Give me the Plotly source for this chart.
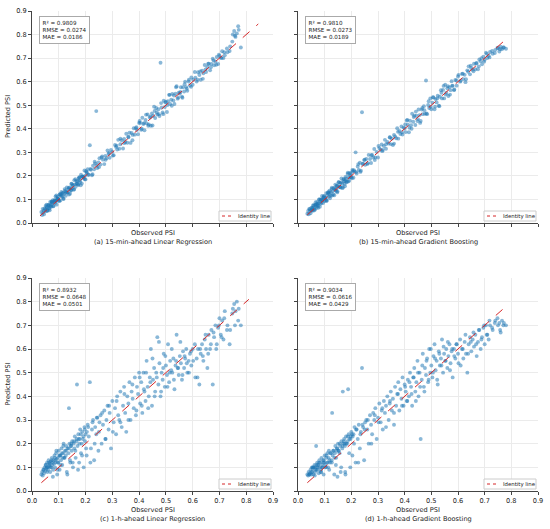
import plotly.graph_objects as go

# ── Data ─────────────────────────────────────────────────────────────────────
observed = [
    0.035, 0.038, 0.04, 0.042, 0.045, 0.047, 0.05, 0.052, 0.054, 0.056,
    0.058, 0.06, 0.062, 0.064, 0.066, 0.068, 0.07, 0.072, 0.074, 0.076,
    0.078, 0.08, 0.082, 0.084, 0.086, 0.088, 0.09, 0.092, 0.094, 0.096,
    0.098, 0.1, 0.103, 0.106, 0.108, 0.11, 0.113, 0.116, 0.118, 0.12,
    0.123, 0.126, 0.128, 0.13, 0.133, 0.136, 0.138, 0.14, 0.143, 0.146,
    0.148, 0.15, 0.153, 0.156, 0.158, 0.16, 0.163, 0.166, 0.168, 0.17,
    0.173, 0.176, 0.178, 0.18, 0.183, 0.186, 0.188, 0.19, 0.193, 0.196,
    0.198, 0.2, 0.204, 0.208, 0.212, 0.216, 0.22, 0.224, 0.228, 0.232,
    0.236, 0.24, 0.244, 0.248, 0.252,
    0.256, 0.26, 0.265, 0.27, 0.274, 0.278, 0.282, 0.286, 0.29, 0.295,
    0.3, 0.305, 0.31, 0.314, 0.318, 0.322, 0.326, 0.33, 0.335, 0.34,
    0.344, 0.348, 0.352, 0.356, 0.36, 0.364, 0.368, 0.372, 0.376, 0.38,
    0.384, 0.388, 0.392, 0.396, 0.4,
    0.404, 0.408, 0.412, 0.416, 0.42, 0.424, 0.428, 0.432, 0.436, 0.44,
    0.444, 0.448, 0.452, 0.456, 0.46, 0.464, 0.468, 0.472, 0.476, 0.48,
    0.484, 0.488, 0.492, 0.496, 0.5, 0.504, 0.508, 0.512, 0.516, 0.52,
    0.524, 0.528, 0.532, 0.536, 0.54, 0.544, 0.548, 0.552, 0.556, 0.56,
    0.564, 0.568, 0.572, 0.576, 0.58, 0.585, 0.59, 0.595, 0.6, 0.61,
    0.615, 0.62, 0.625, 0.63, 0.635, 0.64, 0.645, 0.65, 0.655, 0.66,
    0.665, 0.67, 0.675, 0.68, 0.685, 0.69, 0.695, 0.7, 0.705, 0.71,
    0.715, 0.72, 0.73, 0.74, 0.75, 0.755, 0.76, 0.765, 0.77, 0.78,
    0.044, 0.051, 0.057, 0.063, 0.069, 0.073, 0.079, 0.085, 0.091, 0.097,
    0.102, 0.107, 0.112, 0.117, 0.122, 0.127, 0.132, 0.137, 0.142, 0.147,
    0.152, 0.157, 0.162, 0.167, 0.172, 0.177, 0.182, 0.187, 0.192, 0.197,
    0.202, 0.21, 0.218, 0.226, 0.234, 0.242, 0.25, 0.262, 0.275, 0.288,
    0.302, 0.316, 0.33, 0.345, 0.36, 0.375, 0.39, 0.402, 0.41, 0.418,
    0.426, 0.434, 0.442, 0.45, 0.458, 0.466, 0.474, 0.482, 0.49, 0.498,
    0.506, 0.514, 0.522, 0.53, 0.538, 0.546, 0.554, 0.562, 0.57, 0.578,
    0.586, 0.594, 0.602, 0.608, 0.618, 0.628, 0.638, 0.648, 0.658, 0.668,
    0.678, 0.688, 0.698, 0.708, 0.718, 0.728, 0.738, 0.748, 0.758, 0.772,
    0.055, 0.065, 0.075, 0.087, 0.095, 0.105, 0.115, 0.145, 0.175, 0.205,
]

pred_lr_15 = [
    0.047, 0.034, 0.06, 0.045, 0.037, 0.062, 0.056, 0.05, 0.078, 0.065,
    0.052, 0.077, 0.063, 0.075, 0.054, 0.089, 0.074, 0.069, 0.088, 0.084,
    0.097, 0.071, 0.089, 0.097, 0.085, 0.113, 0.092, 0.078, 0.104, 0.112,
    0.103, 0.095, 0.121, 0.095, 0.117, 0.132, 0.111, 0.128, 0.102, 0.123,
    0.137, 0.116, 0.131, 0.151, 0.129, 0.144, 0.121, 0.151, 0.144, 0.138,
    0.167, 0.148, 0.162, 0.142, 0.182, 0.164, 0.154, 0.179, 0.167, 0.177,
    0.161, 0.192, 0.18, 0.174, 0.205, 0.168, 0.198, 0.195, 0.19, 0.223,
    0.201, 0.185, 0.216, 0.228, 0.205, 0.33, 0.226, 0.203, 0.243, 0.228,
    0.253, 0.475, 0.233, 0.257, 0.275,
    0.248, 0.278, 0.269, 0.25, 0.285, 0.275, 0.308, 0.293, 0.277, 0.31,
    0.302, 0.288, 0.331, 0.323, 0.312, 0.353, 0.315, 0.334, 0.351, 0.316,
    0.357, 0.344, 0.379, 0.341, 0.366, 0.383, 0.34, 0.382, 0.374, 0.402,
    0.375, 0.402, 0.395, 0.377, 0.425,
    0.425, 0.396, 0.447, 0.42, 0.394, 0.437, 0.423, 0.461, 0.418, 0.448,
    0.413, 0.465, 0.454, 0.494, 0.446, 0.488, 0.461, 0.483, 0.454, 0.68,
    0.49, 0.469, 0.519, 0.492, 0.515, 0.471, 0.517, 0.544, 0.505, 0.523,
    0.548, 0.52, 0.505, 0.549, 0.581, 0.528, 0.553, 0.55, 0.576, 0.536,
    0.576, 0.558, 0.6, 0.577, 0.561, 0.601, 0.584, 0.618, 0.587, 0.617,
    0.601, 0.64, 0.628, 0.608, 0.647, 0.636, 0.671, 0.641, 0.662, 0.676,
    0.648, 0.675, 0.697, 0.67, 0.686, 0.705, 0.675, 0.709, 0.702, 0.729,
    0.7, 0.712, 0.725, 0.75, 0.8, 0.815, 0.79, 0.805, 0.835, 0.745,
    0.053, 0.072, 0.053, 0.077, 0.071, 0.091, 0.072, 0.096, 0.117, 0.102,
    0.093, 0.123, 0.116, 0.104, 0.144, 0.134, 0.13, 0.149, 0.124, 0.166,
    0.158, 0.142, 0.186, 0.168, 0.164, 0.194, 0.16, 0.197, 0.195, 0.186,
    0.22, 0.205, 0.229, 0.207, 0.26, 0.244, 0.237, 0.283, 0.268, 0.297,
    0.286, 0.328, 0.358, 0.339, 0.364, 0.351, 0.407, 0.433, 0.4, 0.424,
    0.46, 0.413, 0.451, 0.414, 0.476, 0.469, 0.462, 0.509, 0.462, 0.512,
    0.501, 0.544, 0.498, 0.541, 0.576, 0.533, 0.556, 0.532, 0.589, 0.57,
    0.608, 0.578, 0.608, 0.641, 0.608, 0.643, 0.612, 0.652, 0.676, 0.661,
    0.69, 0.672, 0.715, 0.7, 0.725, 0.741, 0.73, 0.77, 0.795, 0.82,
    0.068, 0.061, 0.089, 0.094, 0.1, 0.121, 0.128, 0.139, 0.189, 0.212,
]

pred_gb_15 = [
    0.039, 0.051, 0.037, 0.06, 0.052, 0.041, 0.065, 0.054, 0.064, 0.052,
    0.074, 0.061, 0.054, 0.076, 0.088, 0.071, 0.065, 0.089, 0.082, 0.065,
    0.084, 0.1, 0.069, 0.093, 0.1, 0.086, 0.115, 0.096, 0.085, 0.108,
    0.115, 0.093, 0.106, 0.127, 0.096, 0.118, 0.127, 0.112, 0.137, 0.105,
    0.131, 0.145, 0.117, 0.135, 0.148, 0.118, 0.14, 0.163, 0.137, 0.157,
    0.135, 0.156, 0.173, 0.153, 0.17, 0.151, 0.189, 0.167, 0.152, 0.184,
    0.177, 0.156, 0.195, 0.189, 0.176, 0.208, 0.176, 0.193, 0.211, 0.194,
    0.211, 0.194, 0.225, 0.192, 0.219, 0.3, 0.21, 0.24, 0.225, 0.256,
    0.222, 0.47, 0.252, 0.267, 0.247,
    0.272, 0.25, 0.289, 0.272, 0.255, 0.289, 0.278, 0.314, 0.278, 0.302,
    0.278, 0.318, 0.311, 0.333, 0.31, 0.327, 0.353, 0.315, 0.344, 0.337,
    0.364, 0.335, 0.358, 0.331, 0.374, 0.367, 0.36, 0.402, 0.358, 0.391,
    0.378, 0.41, 0.376, 0.405, 0.401,
    0.386, 0.435, 0.417, 0.385, 0.434, 0.415, 0.464, 0.43, 0.455, 0.416,
    0.455, 0.433, 0.482, 0.458, 0.433, 0.482, 0.462, 0.496, 0.464, 0.605,
    0.462, 0.501, 0.488, 0.529, 0.483, 0.511, 0.533, 0.483, 0.526, 0.512,
    0.54, 0.498, 0.536, 0.564, 0.529, 0.565, 0.529, 0.587, 0.553, 0.572,
    0.539, 0.577, 0.564, 0.602, 0.583, 0.564, 0.607, 0.583, 0.622, 0.604,
    0.633, 0.611, 0.629, 0.61, 0.648, 0.665, 0.631, 0.657, 0.651, 0.676,
    0.653, 0.679, 0.653, 0.694, 0.687, 0.674, 0.706, 0.693, 0.723, 0.7,
    0.71, 0.726, 0.718, 0.735, 0.742, 0.728, 0.748, 0.738, 0.745, 0.74,
    0.059, 0.053, 0.076, 0.058, 0.08, 0.077, 0.1, 0.082, 0.099, 0.113,
    0.105, 0.093, 0.13, 0.124, 0.116, 0.15, 0.121, 0.149, 0.143, 0.13,
    0.173, 0.153, 0.172, 0.148, 0.187, 0.179, 0.173, 0.214, 0.179, 0.203,
    0.19, 0.224, 0.216, 0.25, 0.217, 0.251, 0.269, 0.254, 0.288, 0.267,
    0.327, 0.305, 0.334, 0.363, 0.337, 0.387, 0.385, 0.418, 0.438, 0.404,
    0.4, 0.45, 0.473, 0.441, 0.425, 0.488, 0.479, 0.465, 0.517, 0.494,
    0.534, 0.494, 0.529, 0.496, 0.553, 0.582, 0.545, 0.581, 0.545, 0.582,
    0.567, 0.605, 0.629, 0.6, 0.634, 0.598, 0.642, 0.668, 0.644, 0.677,
    0.665, 0.7, 0.685, 0.718, 0.703, 0.73, 0.722, 0.744, 0.738, 0.745,
    0.064, 0.077, 0.072, 0.099, 0.107, 0.098, 0.131, 0.158, 0.166, 0.22,
]

pred_lr_60 = [
    0.07, 0.08, 0.065, 0.09, 0.075, 0.1, 0.085, 0.11, 0.095, 0.12,
    0.1, 0.09, 0.13, 0.105, 0.115, 0.08, 0.125, 0.1, 0.14, 0.11,
    0.06, 0.13, 0.115, 0.15, 0.1, 0.12, 0.16, 0.135, 0.07, 0.14,
    0.12, 0.17, 0.09, 0.15, 0.13, 0.18, 0.11, 0.16, 0.2, 0.14,
    0.17, 0.15, 0.19, 0.08, 0.18, 0.16, 0.35, 0.2, 0.12, 0.19,
    0.17, 0.21, 0.1, 0.2, 0.18, 0.23, 0.14, 0.21, 0.45, 0.19,
    0.24, 0.12, 0.22, 0.26, 0.16, 0.2, 0.25, 0.22, 0.1, 0.27,
    0.21, 0.24, 0.15, 0.28, 0.23, 0.46, 0.18, 0.26, 0.3, 0.13,
    0.27, 0.24, 0.31, 0.17, 0.29,
    0.32, 0.2, 0.28, 0.34, 0.22, 0.3, 0.36, 0.26, 0.33, 0.18,
    0.38, 0.29, 0.35, 0.24, 0.4, 0.32, 0.3, 0.42, 0.27, 0.36,
    0.44, 0.33, 0.25, 0.4, 0.37, 0.46, 0.3, 0.42, 0.39, 0.35,
    0.48, 0.32, 0.44, 0.41, 0.5,
    0.37, 0.46, 0.33, 0.5, 0.42, 0.38, 0.55, 0.44, 0.4, 0.48,
    0.6, 0.36, 0.47, 0.52, 0.42, 0.5, 0.65, 0.45, 0.54, 0.4,
    0.5, 0.47, 0.58, 0.44, 0.53, 0.49, 0.62, 0.46, 0.55, 0.51,
    0.5, 0.56, 0.43, 0.53, 0.66, 0.52, 0.49, 0.57, 0.54, 0.47,
    0.59, 0.52, 0.56, 0.6, 0.5, 0.55, 0.58, 0.53, 0.6, 0.48,
    0.56, 0.6, 0.45, 0.58, 0.62, 0.55, 0.64, 0.6, 0.52, 0.66,
    0.6, 0.68, 0.45, 0.65, 0.7, 0.62, 0.69, 0.73, 0.66, 0.72,
    0.64, 0.76, 0.7, 0.68, 0.77, 0.79, 0.76, 0.8, 0.72, 0.7,
    0.09, 0.11, 0.08, 0.12, 0.1, 0.13, 0.09, 0.14, 0.17, 0.12,
    0.15, 0.11, 0.16, 0.19, 0.14, 0.17, 0.07, 0.18, 0.13, 0.2,
    0.12, 0.21, 0.17, 0.22, 0.09, 0.2, 0.24, 0.15, 0.23, 0.26,
    0.18, 0.27, 0.12, 0.29, 0.2, 0.31, 0.25, 0.33, 0.22, 0.36,
    0.25, 0.38, 0.29, 0.41, 0.3, 0.45, 0.34, 0.48, 0.36, 0.43,
    0.5, 0.35, 0.46, 0.56, 0.4, 0.48, 0.63, 0.42, 0.52, 0.57,
    0.44, 0.5, 0.6, 0.47, 0.55, 0.52, 0.63, 0.49, 0.57, 0.54,
    0.5, 0.59, 0.55, 0.62, 0.48, 0.6, 0.57, 0.66, 0.58, 0.62,
    0.67, 0.6, 0.7, 0.65, 0.73, 0.68, 0.62, 0.75, 0.7, 0.77,
    0.1, 0.11, 0.12, 0.13, 0.09, 0.15, 0.14, 0.19, 0.22, 0.25,
]

pred_gb_60 = [
    0.07, 0.065, 0.08, 0.07, 0.075, 0.09, 0.07, 0.1, 0.08, 0.095,
    0.07, 0.1, 0.11, 0.08, 0.1, 0.19, 0.09, 0.12, 0.1, 0.11,
    0.075, 0.13, 0.1, 0.12, 0.09, 0.14, 0.11, 0.1, 0.13, 0.07,
    0.12, 0.15, 0.1, 0.14, 0.12, 0.16, 0.1, 0.17, 0.13, 0.12,
    0.16, 0.13, 0.33, 0.15, 0.17, 0.07, 0.16, 0.19, 0.14, 0.18,
    0.06, 0.2, 0.17, 0.16, 0.19, 0.08, 0.21, 0.18, 0.42, 0.2,
    0.22, 0.19, 0.07, 0.23, 0.2, 0.21, 0.43, 0.24, 0.22, 0.1,
    0.23, 0.25, 0.15, 0.24, 0.27, 0.12, 0.26, 0.22, 0.28, 0.18,
    0.25, 0.52, 0.27, 0.13, 0.29,
    0.3, 0.26, 0.2, 0.32, 0.28, 0.24, 0.33, 0.3, 0.35, 0.22,
    0.31, 0.37, 0.29, 0.34, 0.26, 0.38, 0.33, 0.36, 0.4, 0.3,
    0.37, 0.42, 0.34, 0.39, 0.28, 0.44, 0.36, 0.41, 0.46, 0.34,
    0.43, 0.39, 0.48, 0.36, 0.45,
    0.42, 0.38, 0.47, 0.4, 0.5, 0.44, 0.36, 0.48, 0.52, 0.42,
    0.46, 0.55, 0.4, 0.5, 0.22, 0.47, 0.58, 0.44, 0.52, 0.49,
    0.56, 0.46, 0.6, 0.5, 0.53, 0.48, 0.57, 0.62, 0.51, 0.55,
    0.45, 0.59, 0.53, 0.56, 0.64, 0.5, 0.58, 0.55, 0.6, 0.52,
    0.57, 0.62, 0.54, 0.59, 0.48, 0.6, 0.56, 0.62, 0.58, 0.53,
    0.6, 0.56, 0.63, 0.58, 0.5, 0.62, 0.65, 0.59, 0.64, 0.61,
    0.66, 0.57, 0.63, 0.68, 0.6, 0.65, 0.69, 0.62, 0.7, 0.66,
    0.64, 0.7, 0.68, 0.72, 0.7, 0.71, 0.67, 0.72, 0.7, 0.7,
    0.07, 0.08, 0.1, 0.065, 0.11, 0.09, 0.12, 0.08, 0.1, 0.13,
    0.11, 0.15, 0.12, 0.09, 0.16, 0.12, 0.17, 0.14, 0.11, 0.18,
    0.17, 0.2, 0.1, 0.19, 0.21, 0.08, 0.2, 0.23, 0.16, 0.22,
    0.24, 0.2, 0.26, 0.12, 0.24, 0.28, 0.26, 0.3, 0.2, 0.32,
    0.29, 0.35, 0.27, 0.38, 0.33, 0.41, 0.36, 0.44, 0.38, 0.46,
    0.41, 0.48, 0.38, 0.5, 0.44, 0.53, 0.42, 0.55, 0.47, 0.6,
    0.5, 0.56, 0.47, 0.58, 0.53, 0.61, 0.55, 0.63, 0.51, 0.6,
    0.57, 0.62, 0.54, 0.64, 0.6, 0.66, 0.58, 0.63, 0.67, 0.62,
    0.68, 0.64, 0.7, 0.66, 0.72, 0.69, 0.71, 0.73, 0.68, 0.71,
    0.1, 0.09, 0.11, 0.08, 0.12, 0.1, 0.14, 0.17, 0.2, 0.23,
]

predictions = [pred_lr_15, pred_gb_15, pred_lr_60, pred_gb_60]
subtitles = [
    "(a) 15-min-ahead Linear Regression",
    "(b) 15-min-ahead Gradient Boosting",
    "(c) 1-h-ahead Linear Regression",
    "(d) 1-h-ahead Gradient Boosting",
]
r2_vals   = ["0.9809", "0.9810", "0.8932", "0.9034"]
rmse_vals = ["0.0274", "0.0273", "0.0648", "0.0616"]
mae_vals  = ["0.0186", "0.0189", "0.0501", "0.0429"]
identity_lo = [0.03, 0.035, 0.035, 0.035]
identity_hi = [0.845, 0.79, 0.81, 0.79]
tick_vals = [0.0, 0.1, 0.2, 0.3, 0.4, 0.5, 0.6, 0.7, 0.8, 0.9]
tick_text = ["0.0", "0.1", "0.2", "0.3", "0.4", "0.5", "0.6", "0.7", "0.8", "0.9"]

W, H = 550, 529
FONT = "DejaVu Sans"
POINT = "rgba(31,119,180,0.52)"
RED = "#d62728"
GRID = "#ebebeb"
AXIS = "#444444"
TXT = "#222222"
FS = 6.6

# panel boxes in window pixels: left, right, top, bottom
boxes = [
    (32, 273, 11, 223),
    (298, 538, 11, 223),
    (32, 273, 278, 491),
    (298, 538, 278, 491),
]


def px(xp, yp):
    # window pixel -> paper fraction
    return xp / W, 1 - yp / H


fig = go.Figure()
layout = {}

for i, pred in enumerate(predictions):
    n = "" if i == 0 else str(i + 1)
    xa, ya = "x" + n, "y" + n
    l, r, t, b = boxes[i]
    x0, y1 = px(l, t)
    x1, y0 = px(r, b)

    fig.add_trace(go.Scatter(
        x=observed, y=pred, mode="markers", xaxis=xa, yaxis=ya,
        marker=dict(size=3.9, color=POINT, line=dict(width=0)),
        showlegend=False, hoverinfo="skip",
    ))
    fig.add_trace(go.Scatter(
        x=[identity_lo[i], identity_hi[i]], y=[identity_lo[i], identity_hi[i]],
        mode="lines", xaxis=xa, yaxis=ya, showlegend=False, hoverinfo="skip",
        line=dict(color=RED, width=1, dash="dash"),
    ))

    bottom_row = i >= 2
    left_col = i % 2 == 0
    axis_style = dict(
        range=[0, 0.9], tickvals=tick_vals, ticktext=tick_text,
        ticks="outside", ticklen=3, tickcolor=AXIS,
        showline=True, linecolor=AXIS, linewidth=1,
        showgrid=True, gridcolor=GRID, zeroline=False, automargin=False,
        tickfont=dict(size=FS, color=TXT),
    )
    layout["xaxis" + n] = dict(domain=[x0, x1], anchor=ya,
                               showticklabels=bottom_row, **axis_style)
    layout["yaxis" + n] = dict(domain=[y0, y1], anchor=xa,
                               showticklabels=left_col, **axis_style)

    # stats box
    fig.add_annotation(
        xref=xa + " domain", yref=ya + " domain", x=0.028, y=0.975,
        xanchor="left", yanchor="top", align="left", showarrow=False,
        text=f"R² = {r2_vals[i]}<br>RMSE = {rmse_vals[i]}<br>MAE = {mae_vals[i]}",
        font=dict(size=5.6, color=TXT, family=FONT),
        bgcolor="white", bordercolor="#aaaaaa", borderwidth=1, borderpad=2.5,
    )

    # identity-line legend box (bottom right)
    bx0, by0 = px(r - 54, b - 12)
    bx1, by1 = px(r - 2, b - 2)
    fig.add_shape(type="rect", xref="paper", yref="paper",
                  x0=bx0, y0=by0, x1=bx1, y1=by1,
                  line=dict(color="#cccccc", width=1), fillcolor="white")
    lx0, ly = px(r - 51, b - 7)
    lx1, _ = px(r - 40, b - 7)
    fig.add_shape(type="line", xref="paper", yref="paper",
                  x0=lx0, y0=ly, x1=lx1, y1=ly,
                  line=dict(color=RED, width=1, dash="dot"))
    tx, _ = px(r - 37, b - 7)
    fig.add_annotation(
        xref="paper", yref="paper", x=tx, y=ly, xanchor="left", yanchor="middle",
        text="Identity line", showarrow=False,
        font=dict(size=5.4, color=TXT, family=FONT),
    )

    cx, _ = px((l + r) / 2, 0)
    lab_y = b + (19 if bottom_row else 10)
    _, ly1 = px(0, lab_y)
    _, ly2 = px(0, lab_y + 9)
    fig.add_annotation(
        xref="paper", yref="paper", x=cx, y=ly1,
        xanchor="center", yanchor="middle",
        text="Observed PSI", showarrow=False,
        font=dict(size=FS, color=TXT, family=FONT),
    )
    fig.add_annotation(
        xref="paper", yref="paper", x=cx, y=ly2,
        xanchor="center", yanchor="middle",
        text=subtitles[i], showarrow=False,
        font=dict(size=FS, color=TXT, family=FONT),
    )
    if left_col:
        lx, lyc = px(8, (t + b) / 2)
        fig.add_annotation(
            xref="paper", yref="paper", x=lx, y=lyc,
            text="Predicted PSI", showarrow=False, textangle=-90,
            xanchor="center", yanchor="middle",
            font=dict(size=FS, color=TXT, family=FONT),
        )

fig.update_layout(
    width=W, height=H,
    margin=dict(l=0, r=0, t=0, b=0, autoexpand=False),
    paper_bgcolor="white", plot_bgcolor="white",
    font=dict(family=FONT),
    showlegend=False,
    **layout,
)

# drop the page's default body margin so the figure fills the window
fig.write_html(
    "out.html",
    config={"displayModeBar": False},
    post_script="document.body.style.margin='0';",
)
